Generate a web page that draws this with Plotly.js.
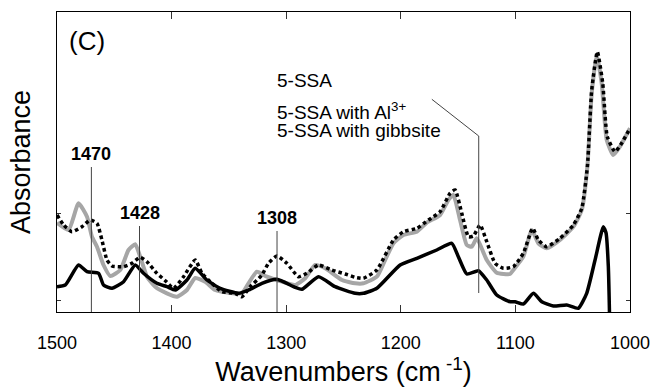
<!DOCTYPE html>
<html>
<head>
<meta charset="utf-8">
<script src="https://cdn.plot.ly/plotly-3.0.1.min.js"></script>
<style>html,body{margin:0;padding:0;background:#fff;}#chart{width:652px;height:388px;}</style>
</head>
<body>
<div id="chart"></div>
<script>
// Wavenumbers (cm-1) and absorbance (arbitrary units)
const wnSSA = [1500,1492.8,1481.2,1473.8,1463.7,1459.4,1452.0,1441.9,1431.7,1424.5,1412.8,1404.1,1396.8,1386.6,1379.4,1369.2,1357.6,1341.6,1332.9,1321.2,1308.1,1292.2,1286.3,1271.8,1257.3,1239.8,1232.6,1220.9,1200.6,1186.0,1168.6,1155.5,1149.8,1142.4,1132.3,1125.0,1116.3,1104.7,1100.3,1093.1,1084.3,1077.0,1066.9,1055.2,1045.1,1037.8,1030.5,1023.3,1020.9,1018.9,1017.4];
const absSSA = [24.8,26.5,46.5,39.8,38.2,26.5,23.2,29.8,46.5,38.2,28.2,24.8,21.5,31.5,43.2,31.5,23.2,18.2,21.5,28.2,32.2,24.2,22.2,34.8,24.8,18.2,18.2,23.2,46.5,53.2,61.5,68.2,54.8,37.5,40.8,31.5,16.5,9.8,9.8,7.5,18.2,9.8,5.5,6.5,3.2,18.2,51.5,84.8,78.5,44.8,-30];

const wnAl = [1500,1489.9,1481.2,1473.8,1469.5,1465.1,1459.4,1453.5,1444.8,1437.6,1431.7,1427.4,1421.5,1414.3,1404.1,1395.3,1386.6,1379.4,1370.7,1361.9,1350.3,1338.7,1332.9,1325.6,1316.8,1303.8,1292.2,1283.4,1274.7,1266.0,1251.4,1239.8,1232.6,1220.9,1213.7,1206.4,1197.7,1186.0,1177.3,1165.7,1158.5,1154.1,1148.3,1142.4,1138.1,1133.7,1125.0,1116.3,1104.7,1101.8,1093.1,1085.7,1080.0,1072.7,1061.1,1049.4,1042.1,1037.2,1033.4,1029.0,1024.7,1020.3,1014.6,1008.8,1000];
const absAl = [88.8,81.5,108.2,94.8,74.8,64.8,46.5,35.5,41.5,61.5,67.2,54.8,34.8,24.8,18.2,14.8,21.5,33.5,29.8,21.5,18.8,18.2,28.2,39.8,34.8,29.8,26.5,33.2,46.5,43.2,31.5,28.2,28.2,34.8,51.5,68.2,76.5,79.8,88.8,96.5,111.5,116.5,91.5,66.5,64.8,73.2,51.5,38.8,37.5,41.5,54.8,81.5,68.2,63.2,71.5,84.8,101.5,144.8,218.2,256.5,228.2,171.5,156.5,164.8,183.2];

const wnGib = [1500,1494.2,1486.9,1478.2,1471.0,1465.1,1460.8,1456.4,1452.0,1441.9,1434.6,1427.4,1421.5,1412.8,1405.5,1398.3,1389.6,1379.4,1373.5,1364.8,1356.1,1344.5,1338.7,1331.4,1321.2,1315.5,1308.1,1299.4,1289.3,1282.0,1271.8,1260.2,1248.6,1239.8,1232.6,1220.9,1206.4,1197.7,1186.0,1175.9,1165.7,1157.0,1152.6,1146.8,1141.0,1136.7,1130.8,1125.0,1117.7,1110.5,1101.8,1093.1,1084.9,1080.0,1072.7,1061.1,1049.4,1042.1,1037.2,1033.4,1028.5,1023.8,1019.8,1013.1,1007.3,1000];
const absGib = [96.5,86.5,79.8,84.8,91.5,88.2,71.5,51.5,45.5,44.8,48.2,54.2,49.8,38.2,30.8,23.2,34.8,51.5,38.2,28.2,19.8,18.2,14.8,24.8,36.5,48.2,55.5,48.2,34.8,38.2,46.5,41.5,37.5,34.2,33.2,41.5,71.5,79.8,83.2,91.5,99.8,118.2,121.5,98.2,74.8,75.5,86.5,69.8,48.2,43.2,44.8,58.2,83.2,71.5,64.8,73.2,86.5,103.2,144.8,221.5,259.8,228.2,174.8,159.8,168.2,183.2];

const xTicks = [1500,1400,1300,1200,1100,1000];
const peakWn = [1470, 1428, 1308];
const peakLabels = ['1470', '1428', '1308'];
const peakLineTop = [144.5, 85.5, 80.5];
const legendNames = ['5-SSA', '5-SSA with Al<sup>3+</sup>', '5-SSA with gibbsite'];
const pointerWn = 1132;

const FONT = 'Liberation Sans, Arial, sans-serif';

const traces = [
  {x: wnAl, y: absAl, name: legendNames[1], mode: 'lines', line: {color: '#a6a6a6', width: 4, shape: 'spline', smoothing: 0.5}},
  {x: wnSSA, y: absSSA, name: legendNames[0], mode: 'lines', line: {color: '#000', width: 3.5, shape: 'spline', smoothing: 0.5}},
  {x: wnGib, y: absGib, name: legendNames[2], mode: 'lines', line: {color: '#000', width: 3.5, dash: '3.5px,3px', shape: 'spline', smoothing: 0.5}}
];

const shapes = peakWn.map((w, i) => ({type: 'line', xref: 'x', yref: 'y', x0: w, x1: w, y0: -0.5, y1: peakLineTop[i], line: {color: '#444', width: 1}}));
shapes.push({type: 'line', xref: 'x', yref: 'y', x0: pointerWn, x1: pointerWn, y0: 18.5, y1: 175.5, line: {color: '#444', width: 1}});
shapes.push({type: 'line', xref: 'x', yref: 'y', x0: 1172.9, x1: pointerWn, y0: 212.2, y1: 175.5, line: {color: '#444', width: 1}});

const annotations = peakWn.map((w, i) => ({x: w, y: peakLineTop[i] + 1, xref: 'x', yref: 'y', text: '<b>' + peakLabels[i] + '</b>', showarrow: false, xanchor: 'center', yanchor: 'bottom', font: {family: FONT, size: 18, color: '#000'}}));
annotations.push({x: 1473.5, y: 270.5, xref: 'x', yref: 'y', text: '(C)', showarrow: false, xanchor: 'center', yanchor: 'middle', font: {family: FONT, size: 26, color: '#000'}});
const legY = [231.5, 201, 181.5];
legendNames.forEach((t, i) => annotations.push({x: 1308.5, y: legY[i], xref: 'x', yref: 'y', text: t, showarrow: false, xanchor: 'left', yanchor: 'middle', borderpad: 0, font: {family: FONT, size: 19, color: '#000'}}));

const layout = {
  width: 652, height: 388,
  margin: {l: 57, r: 22, t: 12, b: 76, pad: 0},
  paper_bgcolor: '#fff', plot_bgcolor: '#fff',
  showlegend: false,
  font: {family: FONT, color: '#000'},
  xaxis: {
    range: [1500, 1000], tickvals: xTicks, ticktext: xTicks.map(String),
    ticks: 'inside', ticklen: 7, tickcolor: '#333', tickwidth: 1,
    showline: true, linecolor: '#000', linewidth: 1, mirror: 'ticks',
    showgrid: false, zeroline: false,
    tickfont: {family: FONT, size: 18, color: '#000'},
    ticklabelstandoff: 14,
    title: {text: 'Wavenumbers (cm<sup> -1</sup>)', font: {family: FONT, size: 27, color: '#000'}, standoff: 6}
  },
  yaxis: {
    range: [-0.5, 299.5], tickvals: [11.5, 98.5], showticklabels: false,
    ticks: 'inside', ticklen: 4, tickcolor: '#333',
    showline: true, linecolor: '#000', linewidth: 1, mirror: 'ticks',
    showgrid: false, zeroline: false,
    title: {text: 'Absorbance', font: {family: FONT, size: 27, color: '#000'}, standoff: 17}
  },
  shapes: shapes,
  annotations: annotations
};

Plotly.newPlot('chart', traces, layout, {staticPlot: true, displayModeBar: false});
</script>
</body>
</html>
